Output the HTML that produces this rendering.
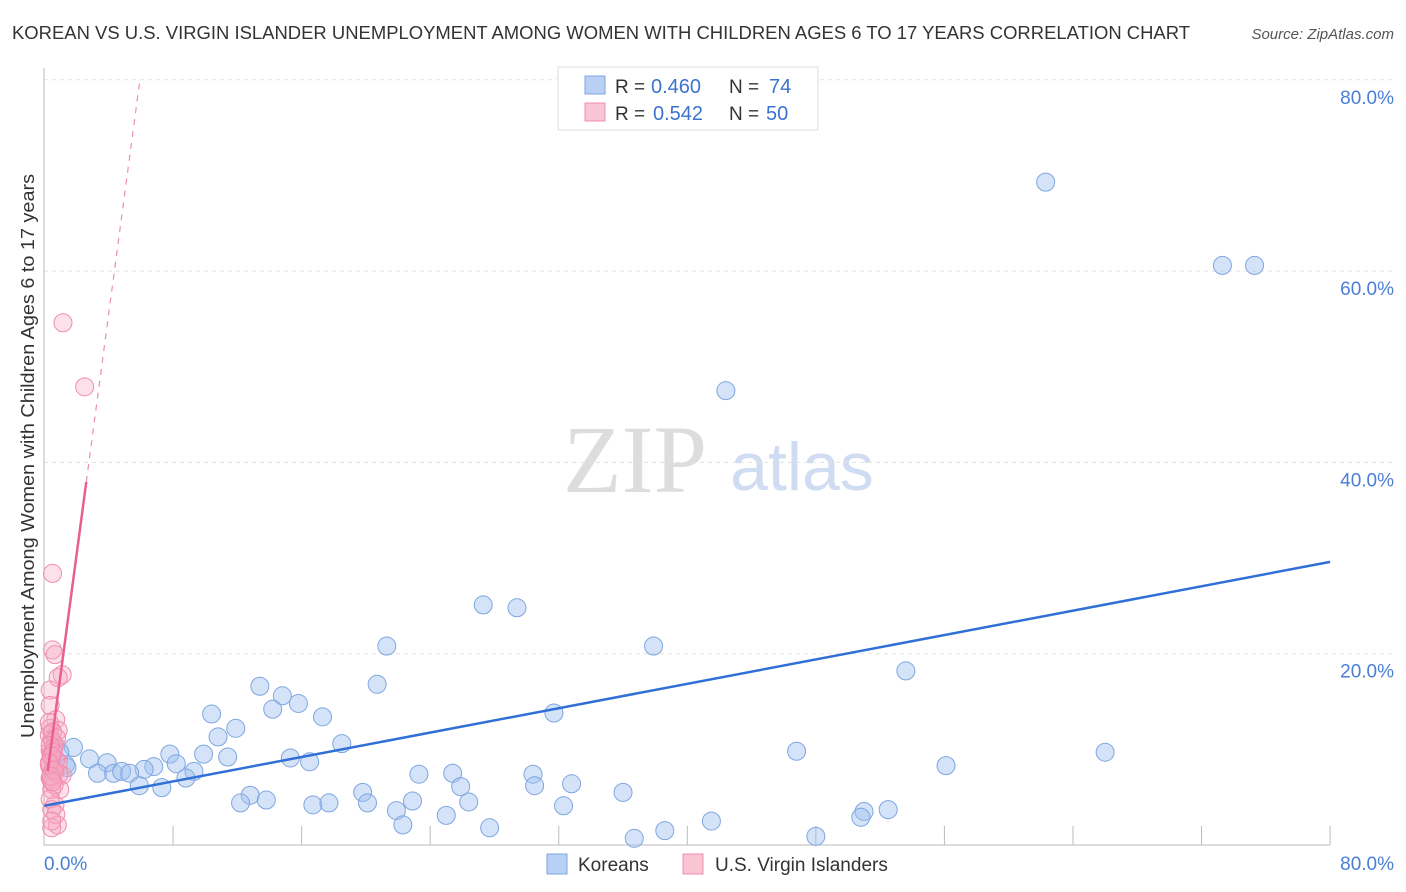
<!DOCTYPE html>
<html><head><meta charset="utf-8"><style>
body{margin:0;background:#fff;font-family:"Liberation Sans",sans-serif;}
svg{display:block}
</style></head><body>
<svg id="c" width="1406" height="892" xmlns="http://www.w3.org/2000/svg">
<text x="12" y="39" font-size="18" fill="#333" textLength="1178" lengthAdjust="spacingAndGlyphs">KOREAN VS U.S. VIRGIN ISLANDER UNEMPLOYMENT AMONG WOMEN WITH CHILDREN AGES 6 TO 17 YEARS CORRELATION CHART</text>
<text x="1394" y="39" font-size="15" fill="#555" font-style="italic" text-anchor="end">Source: ZipAtlas.com</text>
<text x="635" y="492" font-size="96" fill="#ddd" font-family="Liberation Serif,serif" text-anchor="middle">ZIP</text>
<text x="802" y="490" font-size="68" fill="#cfdcf2" text-anchor="middle">atlas</text>
<g id="grid"></g><g id="axes"></g><g id="pts"></g><g id="lines"></g>
<text transform="translate(34,456) rotate(-90)" font-size="18" fill="#333" text-anchor="middle" textLength="564" lengthAdjust="spacingAndGlyphs">Unemployment Among Women with Children Ages 6 to 17 years</text>
<text x="44" y="870" font-size="19" fill="#4a7fd4">0.0%</text>
<text x="1394" y="870" font-size="19" fill="#4a7fd4" text-anchor="end">80.0%</text>
<g>
<rect x="558" y="67" width="260" height="63" fill="#fff" stroke="#ddd"/>
<rect x="585" y="76" width="20" height="18" fill="#b8d0f4" stroke="#7ea6e0"/>
<rect x="585" y="103" width="20" height="18" fill="#f9c4d4" stroke="#f08cb0"/>
<text x="615" y="93" font-size="19" fill="#333">R =</text><text x="651" y="93" font-size="20" fill="#3a74d0">0.460</text>
<text x="729" y="93" font-size="19" fill="#333">N =</text><text x="769" y="93" font-size="20" fill="#3a74d0">74</text>
<text x="615" y="120" font-size="19" fill="#333">R =</text><text x="653" y="120" font-size="20" fill="#3a74d0">0.542</text>
<text x="729" y="120" font-size="19" fill="#333">N =</text><text x="766" y="120" font-size="20" fill="#3a74d0">50</text>
</g>
<g>
<rect x="547" y="854" width="20" height="20" fill="#b8d0f4" stroke="#7ea6e0"/>
<text x="578" y="871" font-size="19" fill="#333">Koreans</text>
<rect x="683" y="854" width="20" height="20" fill="#f9c4d4" stroke="#f08cb0"/>
<text x="715" y="871" font-size="19" fill="#333">U.S. Virgin Islanders</text>
</g>
</svg>
<script>
const yTicks=[20,40,60,80];
const xTicks=[8,16,24,32,40,48,56,64,72,80];
const koreanX=[62.3,73.3,75.3,42.4,27.3,29.4,21.3,37.9,53.6,20.7,13.4,14.8,15.8,14.2,10.4,17.3,31.7,11.9,10.8,18.5,46.8,66.0,7.8,9.9,11.4,15.3,16.5,8.2,6.8,6.2,56.1,9.3,8.8,1.8,2.8,3.9,1.3,3.3,4.3,4.8,5.3,5.9,7.3,23.3,25.4,30.4,19.8,25.9,30.5,32.8,36.0,12.8,12.2,13.8,16.7,17.7,20.1,22.9,26.4,32.3,21.9,25.0,22.3,27.7,41.5,38.6,36.7,48.0,51.0,50.8,52.5,0.65,0.95,1.4];
const koreanY=[69.3,60.6,60.6,47.5,25.1,24.8,20.8,20.8,18.2,16.8,16.6,15.6,14.8,14.2,13.7,13.4,13.8,12.2,11.3,10.6,9.8,9.7,9.5,9.5,9.2,9.1,8.7,8.5,8.2,7.9,8.3,7.7,7.0,10.2,9.0,8.6,8.4,7.5,7.5,7.7,7.5,6.2,6.0,7.4,7.5,7.4,5.5,6.1,6.2,6.4,5.5,5.2,4.4,4.7,4.2,4.4,4.4,4.6,4.5,4.1,3.6,3.1,2.1,1.8,2.5,1.5,0.7,0.9,3.5,2.9,3.7,10.5,9.7,8.1];
const vinX=[1.15,2.5,0.5,0.5,0.65,1.1,0.85,0.35,0.35,0.7,0.35,0.85,0.45,0.65,0.35,0.45,0.85,0.35,0.65,1.1,0.35,0.45,0.95,0.65,0.45,0.8,0.45,0.3,0.5,0.6,0.4,0.7,0.3,0.55,0.9,0.4,0.6,0.3,0.5,0.75,0.35,0.55,0.45,0.3,0.6,0.4,0.5,0.35,0.7,0.45];
const vinY=[54.6,47.9,28.4,20.4,19.9,17.8,17.5,16.2,14.6,13.1,12.2,12.0,11.0,10.5,9.9,9.1,8.7,8.1,7.6,7.3,7.0,5.8,5.8,4.2,3.7,2.1,1.8,11.5,10.8,10.2,9.5,8.9,8.4,7.9,7.4,6.8,6.3,12.8,11.8,11.2,10.4,9.7,9.3,8.6,7.8,7.2,6.6,4.8,3.2,2.5];
const koreanLine=[4.1,29.6];
const vinLine={intercept:5.2,slope:12.6};
const X=v=>44.5+v*16.07, Y=v=>845-v*9.565;
const NS="http://www.w3.org/2000/svg";
function mk(t,a,p){const e=document.createElementNS(NS,t);for(const k in a)e.setAttribute(k,a[k]);p.appendChild(e);return e;}
const grid=document.getElementById('grid'),axes=document.getElementById('axes'),pts=document.getElementById('pts'),lines=document.getElementById('lines');
yTicks.forEach(t=>{const g=mk('line',{x1:44,x2:1394,y1:Y(t),y2:Y(t),stroke:'#e2e2e2','stroke-dasharray':'4,4'},grid);


const l=mk('text',{x:1394,y:Y(t)+24,'font-size':19,fill:'#4a7fd4','text-anchor':'end'},grid);l.textContent=t.toFixed(1)+'%';

});
const ya=mk('line',{x1:44,x2:44,y1:68,y2:845,stroke:'#bbb'},axes);


const xa=mk('line',{x1:44,x2:1330,y1:845,y2:845,stroke:'#bbb'},axes);


xTicks.forEach(t=>{const k=mk('line',{x1:X(t),x2:X(t),y1:826,y2:845,stroke:'#bbb'},axes);

});
koreanX.forEach((v,i)=>{const c=mk('circle',{cx:X(v),cy:Y(koreanY[i]),r:9,fill:'rgba(160,192,240,0.45)',stroke:'#7ea6e0','stroke-width':1},pts);

});
vinX.forEach((v,i)=>{const c=mk('circle',{cx:X(v),cy:Y(vinY[i]),r:9,fill:'rgba(245,170,195,0.35)',stroke:'#f08cb0','stroke-width':1},pts);

});
const kl=mk('line',{x1:X(0),y1:Y(koreanLine[0]),x2:X(80),y2:Y(koreanLine[1]),stroke:'#2f6fd6','stroke-width':2.5},lines);


const vf=x=>vinLine.intercept+vinLine.slope*x;
const vs=mk('line',{x1:X(0.2),y1:Y(vf(0.2)),x2:X(2.6),y2:Y(vf(2.6)),stroke:'#e8608e','stroke-width':2.5},lines);


const vd=mk('line',{x1:X(2.6),y1:Y(vf(2.6)),x2:X(5.92),y2:Y(vf(5.92)),stroke:'#f08cb0','stroke-width':1.2,'stroke-dasharray':'6,6'},lines);


</script>
</body></html>
